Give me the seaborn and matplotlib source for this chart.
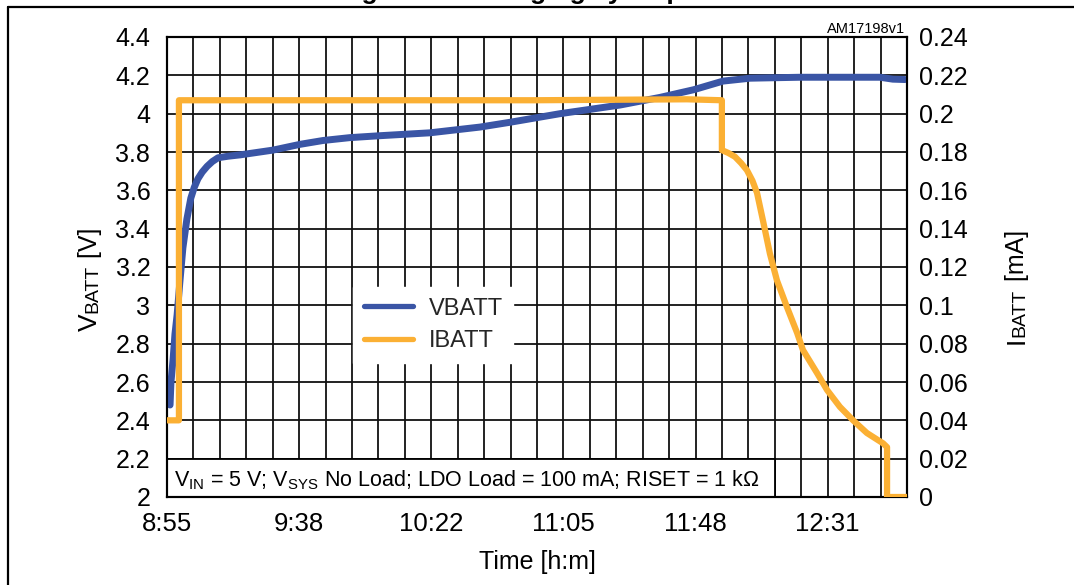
import numpy as np
import pandas as pd
import matplotlib
matplotlib.use("Agg")
import matplotlib.pyplot as plt
import seaborn as sns
from matplotlib.ticker import MultipleLocator, FixedLocator, FixedFormatter
from matplotlib.patches import Rectangle
from matplotlib.lines import Line2D

# ---------------- data (minutes after 8:55) ----------------
v_time = [1.0, 1.3, 2.0, 2.6, 3.3, 4.2, 5.2, 6.5, 7.8, 8.9, 10.1, 11.5, 13.1, 14.8, 16.7,
          20.0, 23.9, 34.7, 43.5, 51.0, 59.8, 69.6, 85.9, 102.3, 112.1, 128.5, 148.1,
          161.2, 172.2, 181.8, 190.6, 206.9, 233.1, 237.3, 241.3]
v_batt = [2.48, 2.60, 2.72, 2.85, 2.95, 3.12, 3.30, 3.45, 3.56, 3.615, 3.66, 3.695, 3.725,
          3.75, 3.77, 3.778, 3.785, 3.81, 3.84, 3.86, 3.875, 3.885, 3.90, 3.93, 3.955,
          4.00, 4.045, 4.085, 4.125, 4.17, 4.185, 4.19, 4.19, 4.18, 4.178]

i_time = [0.0, 3.9, 3.9, 60.0, 120.0, 170.0, 181.4, 181.4, 183.5, 185.7, 187.7, 189.6,
          191.4, 192.9, 194.8, 197.1, 199.4, 202.7, 206.0, 207.9, 212.5, 215.8, 220.0,
          224.3, 228.8, 234.1, 235.4, 235.4, 241.9]
i_batt = [0.04, 0.04, 0.207, 0.207, 0.207, 0.2075, 0.207, 0.181, 0.1795, 0.1775, 0.1742,
          0.1705, 0.165, 0.1586, 0.1445, 0.127, 0.113, 0.099, 0.0856, 0.0767, 0.0647,
          0.0558, 0.047, 0.040, 0.0334, 0.028, 0.026, 0.0, 0.0]

x_tick_pos = [0.0, 43.2, 86.4, 129.6, 172.8, 216.0]
x_tick_labels = ["8:55", "9:38", "10:22", "11:05", "11:48", "12:31"]
x_max = 241.92

dfv = pd.DataFrame({"t": v_time, "v": v_batt})
dfi = pd.DataFrame({"t": i_time, "i": i_batt})

# ---------------- style ----------------
sns.set_theme(style="white")
plt.rcParams["font.family"] = ["Liberation Sans", "DejaVu Sans"]
plt.rcParams["mathtext.fontset"] = "custom"
plt.rcParams["mathtext.rm"] = "Liberation Sans"
plt.rcParams["mathtext.it"] = "Liberation Sans"

BLUE = "#3a55a5"
ORANGE = "#fbb034"
W, H = 1074, 585

fig = plt.figure(figsize=(W / 100, H / 100), dpi=100)
fig.patch.set_facecolor("white")
ax = fig.add_axes([167 / W, (H - 497) / H, 740 / W, 460 / H])
ax2 = ax.twinx()

sns.lineplot(data=dfv, x="t", y="v", ax=ax, color=BLUE, lw=5.0, sort=False,
             estimator=None, label="VBATT", zorder=3, legend=False)
sns.lineplot(data=dfi, x="t", y="i", ax=ax2, color=ORANGE, lw=4.5, sort=False,
             estimator=None, label="IBATT", zorder=3, legend=False)

ax.set_xlim(0, x_max)
ax.set_ylim(2.0, 4.4)
ax2.set_ylim(0, 0.24)

ax.xaxis.set_major_locator(FixedLocator(x_tick_pos))
ax.xaxis.set_major_formatter(FixedFormatter(x_tick_labels))
ax.xaxis.set_minor_locator(MultipleLocator(8.64))
ax.yaxis.set_major_locator(MultipleLocator(0.2))
ax2.yaxis.set_major_locator(MultipleLocator(0.02))
ax.yaxis.set_major_formatter(matplotlib.ticker.FuncFormatter(lambda v, p: f"{v:g}"))
ax2.yaxis.set_major_formatter(matplotlib.ticker.FuncFormatter(
    lambda v, p: f"{v:.2f}".rstrip("0").rstrip(".") if abs(v) > 1e-9 else "0"))

ax.set_axisbelow(True)
ax.grid(True, which="both", axis="x", color="#111111", lw=1.3)
ax.grid(True, which="major", axis="y", color="#111111", lw=1.3)
ax2.grid(False)

ax.tick_params(axis="x", which="both", length=0, pad=11, labelsize=18.5, colors="black")
ax.tick_params(axis="y", length=0, pad=12, labelsize=18, colors="black")
ax2.tick_params(axis="y", length=0, pad=9, labelsize=18, colors="black")
for a in (ax, ax2):
    for s in a.spines.values():
        s.set_color("black")
        s.set_linewidth(1.5)

ax.set_xlabel("Time [h:m]", fontsize=18, labelpad=10, color="black")
ax.set_ylabel("")
ax2.set_ylabel("")

# annotation box
ax.add_patch(Rectangle((0, 0), 608 / 740, 1 / 12, transform=ax.transAxes,
                       facecolor="white", edgecolor="black", lw=1.3, zorder=2))
ax.text(7 / 740, 11 / 460,
        r"V$_{\mathrm{IN}}$ = 5 V; V$_{\mathrm{SYS}}$ No Load; LDO Load = 100 mA; RISET = 1 kΩ",
        transform=ax.transAxes, ha="left", va="baseline", fontsize=15.5, color="black", zorder=4)

# legend
h1, l1 = ax.get_legend_handles_labels()
h2, l2 = ax2.get_legend_handles_labels()
leg = ax2.legend(h1 + h2, l1 + l2, loc="upper left",
                 bbox_to_anchor=((353 - 167) / 740, (497 - 287) / 460),
                 borderaxespad=0, frameon=True, fancybox=False, fontsize=17,
                 handlelength=2.1, handletextpad=0.65, labelspacing=0.45, borderpad=0.45)
leg.get_frame().set_facecolor("white")
leg.get_frame().set_edgecolor("white")
leg.get_frame().set_alpha(1)
for ln in leg.get_lines():
    ln.set_linewidth(3.8)

# figure frame
fig.add_artist(Line2D([8 / W, 8 / W], [0, 1 - 7 / H], color="black", lw=1.6))
fig.add_artist(Line2D([8 / W, 1.0], [1 - 7 / H, 1 - 7 / H], color="black", lw=1.6))

# title (cut off at the top edge, as in the reference)
fig.text(543 / W, 1 + 1.5 / H, "Figure 10. Charging cycle profile", ha="center",
         va="baseline", fontsize=19, fontweight="bold", color="black")
fig.text(905 / W, 1 - 33 / H, "AM17198v1", ha="right", va="baseline", fontsize=10.5,
         color="black")

# rotated composite axis labels
fig.canvas.draw()
renderer = fig.canvas.get_renderer()

def stacked_label(x_px, y_bottom_px, pieces):
    y = H - y_bottom_px
    for txt, size in pieces:
        t = fig.text(x_px / W, y / H, txt, rotation=90, rotation_mode="anchor",
                     ha="left", va="baseline", fontsize=size, color="black")
        ext = t.get_window_extent(renderer)
        y += ext.height

stacked_label(97, 331, [("V", 19), ("BATT", 14), (" [V]", 18)])
stacked_label(1024, 344, [("I", 19), ("BATT", 14), (" [mA]", 18)])

fig.savefig("out.png", dpi=100, facecolor="white")
